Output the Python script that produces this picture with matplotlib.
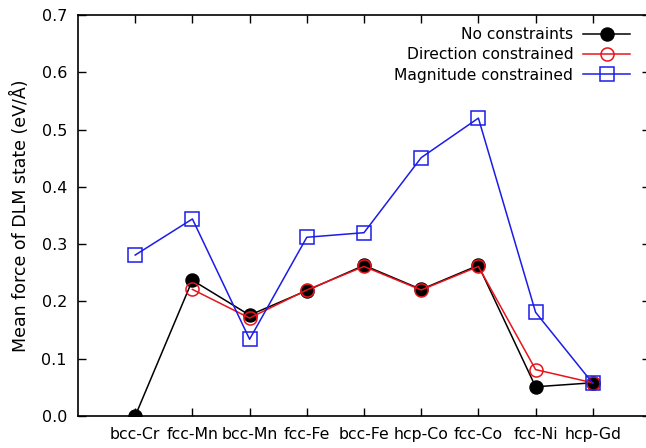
import matplotlib
matplotlib.use("Agg")
import matplotlib.pyplot as plt
import numpy as np

categories = ["bcc-Cr", "fcc-Mn", "bcc-Mn", "fcc-Fe", "bcc-Fe", "hcp-Co", "fcc-Co", "fcc-Ni", "hcp-Gd"]
no_constraints = [0.0, 0.237, 0.176, 0.219, 0.263, 0.221, 0.263, 0.051, 0.058]
direction_constrained = [np.nan, 0.221, 0.171, 0.220, 0.261, 0.220, 0.261, 0.081, 0.058]
magnitude_constrained = [0.281, 0.344, 0.134, 0.312, 0.320, 0.451, 0.520, 0.181, 0.057]

x = np.arange(1, len(categories) + 1)

fig = plt.figure(figsize=(6.46, 4.48), dpi=100)
ax = fig.add_axes([78/646, 32/448, (650-78)/646, (416-15)/448])

ax.plot(x, no_constraints, color="black", lw=1.1, marker="o", ms=9.4,
        mfc="black", mec="black", label="No constraints")
ax.plot(x, direction_constrained, color="#e8141c", lw=1.1, marker="o", ms=9.4,
        mfc="none", mec="#e8141c", mew=1.1, label="Direction constrained")
ax.plot(x, magnitude_constrained, color="#1c1ce8", lw=1.1, marker="s", ms=9.4,
        mfc="none", mec="#1c1ce8", mew=1.1, label="Magnitude constrained")

ax.set_xlim(0, 10)
ax.set_ylim(0, 0.7)
ax.set_xticks(x)
ax.set_xticklabels(categories, fontsize=11.3)
ax.set_yticks(np.arange(0, 0.71, 0.1))
ax.set_yticklabels([f"{v:.1f}" for v in np.arange(0, 0.71, 0.1)], fontsize=11.5)
ax.tick_params(direction="in", top=True, right=True, length=6, width=1, pad=8)
for s in ax.spines.values():
    s.set_linewidth(1.2)
ax.set_ylabel("Mean force of DLM state (eV/Å)", fontsize=12.5, labelpad=8)

leg = ax.legend(loc="upper right", frameon=False, markerfirst=False, fontsize=11.2,
                handlelength=3.0, labelspacing=0.34, handletextpad=0.65,
                borderpad=0, borderaxespad=0,
                bbox_to_anchor=(630/646, (448-27)/448), bbox_transform=fig.transFigure)

fig.savefig("out.png", dpi=100)
